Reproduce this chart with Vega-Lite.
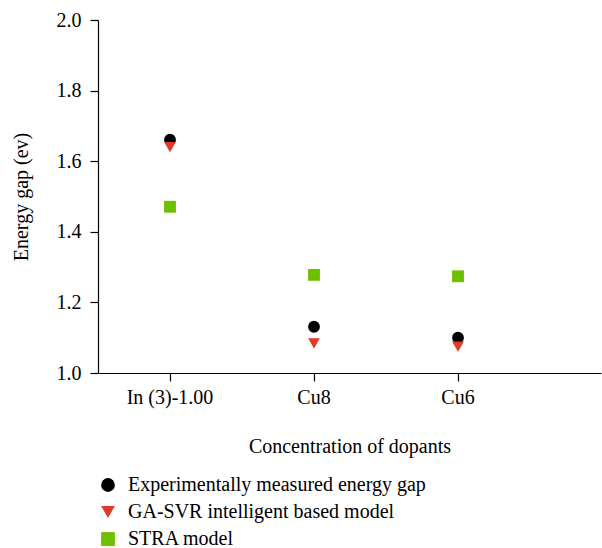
{
  "$schema": "https://vega.github.io/schema/vega-lite/v6.json",
  "autosize": "none",
  "width": 503,
  "height": 353,
  "padding": {"left": 98, "top": 20, "right": 1, "bottom": 175},
  "background": "white",
  "config": {
    "view": {"stroke": null},
    "font": "Liberation Serif",
    "axis": {"grid": false, "domainColor": "#000", "tickColor": "#000", "labelColor": "#000", "titleColor": "#000", "labelFont": "Liberation Serif", "titleFont": "Liberation Serif", "labelFontSize": 20, "titleFontSize": 20, "titleFontWeight": "normal", "domainWidth": 1.2, "tickWidth": 1.2}
  },
  "data": {
    "values": [
      {"dopant": "In (3)-1.00", "series": "Experimentally measured energy gap", "gap": 1.661},
      {"dopant": "In (3)-1.00", "series": "GA-SVR intelligent based model", "gap": 1.64},
      {"dopant": "In (3)-1.00", "series": "STRA model", "gap": 1.471},
      {"dopant": "Cu8", "series": "Experimentally measured energy gap", "gap": 1.131},
      {"dopant": "Cu8", "series": "GA-SVR intelligent based model", "gap": 1.084},
      {"dopant": "Cu8", "series": "STRA model", "gap": 1.278},
      {"dopant": "Cu6", "series": "Experimentally measured energy gap", "gap": 1.10},
      {"dopant": "Cu6", "series": "GA-SVR intelligent based model", "gap": 1.075},
      {"dopant": "Cu6", "series": "STRA model", "gap": 1.274}
    ]
  },
  "mark": {"type": "point", "filled": true, "opacity": 1, "size": 140},
  "encoding": {
    "x": {
      "field": "dopant", "type": "nominal", "sort": null,
      "scale": {"type": "band", "domain": ["In (3)-1.00", "Cu8", "Cu6"], "paddingInner": 0, "paddingOuter": 0.2465, "align": 0},
      "axis": {"title": "Concentration of dopants", "labelAngle": 0, "tickSize": 8, "labelPadding": 6, "titlePadding": 29}
    },
    "y": {
      "field": "gap", "type": "quantitative",
      "scale": {"domain": [1.0, 2.0], "nice": false, "zero": false},
      "axis": {"title": "Energy gap (ev)", "values": [1.0, 1.2, 1.4, 1.6, 1.8, 2.0], "format": ".1f", "tickSize": 8, "labelPadding": 9, "titlePadding": 25}
    },
    "color": {
      "field": "series", "type": "nominal",
      "scale": {"domain": ["Experimentally measured energy gap", "GA-SVR intelligent based model", "STRA model"], "range": ["#000000", "#e03a2a", "#6cc000"]},
      "legend": {"title": null, "orient": "none", "legendX": 0, "legendY": 455, "padding": 0, "labelFont": "Liberation Serif", "labelFontSize": 20, "labelColor": "#000", "labelOffset": 10, "rowPadding": 7, "symbolSize": 190, "labelLimit": 500}
    },
    "shape": {
      "field": "series", "type": "nominal",
      "scale": {"domain": ["Experimentally measured energy gap", "GA-SVR intelligent based model", "STRA model"], "range": ["circle", "triangle-down", "square"]}
    }
  }
}
